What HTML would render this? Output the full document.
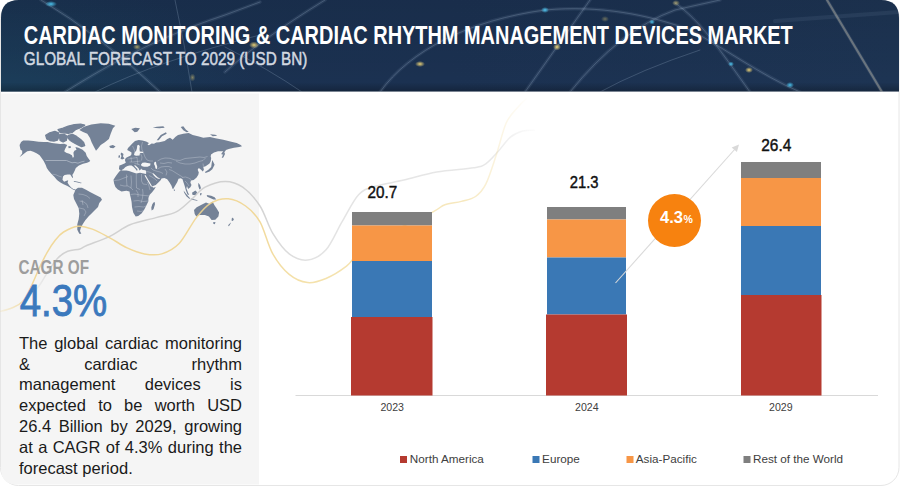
<!DOCTYPE html>
<html><head><meta charset="utf-8">
<style>
html,body{margin:0;padding:0;width:900px;height:488px;background:#fff;overflow:hidden;}
body{position:relative;font-family:"Liberation Sans",sans-serif;}
svg{position:absolute;left:0;top:0;}
.land{fill:#748297;}
.bord{fill:none;stroke:#e3e7ee;stroke-opacity:0.6;stroke-width:0.5;stroke-linejoin:round;}
.water{fill:#f5f5f5;}
.body{position:absolute;left:19px;top:332.7px;width:223px;font-size:16.5px;line-height:20.83px;color:#1a1a1a;}
.body div{text-align:justify;text-align-last:justify;white-space:nowrap;}
.body div.last{text-align-last:left;}
</style></head>
<body>
<svg width="900" height="488" viewBox="0 0 900 488">
<defs>
<linearGradient id="hg" x1="0" y1="0" x2="1" y2="0">
<stop offset="0" stop-color="#1a3150"/>
<stop offset="0.5" stop-color="#1b3151"/>
<stop offset="1" stop-color="#1d3453"/>
</linearGradient>
<radialGradient id="hteal" gradientUnits="userSpaceOnUse" cx="0" cy="95" r="260" gradientTransform="translate(0 95) scale(1 0.45) translate(0 -95)">
<stop offset="0" stop-color="#1c4660" stop-opacity="0.6"/>
<stop offset="1" stop-color="#1c4660" stop-opacity="0"/>
</radialGradient>
<linearGradient id="hv" x1="0" y1="0" x2="0" y2="1">
<stop offset="0" stop-color="#000" stop-opacity="0.08"/>
<stop offset="0.9" stop-color="#000" stop-opacity="0"/>
<stop offset="1" stop-color="#000" stop-opacity="0.25"/>
</linearGradient>
<linearGradient id="yg" gradientUnits="userSpaceOnUse" x1="0" y1="0" x2="530" y2="0">
<stop offset="0" stop-color="#f0d590" stop-opacity="0.2"/>
<stop offset="0.06" stop-color="#f0d590" stop-opacity="0.9"/>
<stop offset="0.48" stop-color="#f0d590" stop-opacity="0.9"/>
<stop offset="0.56" stop-color="#f1d994" stop-opacity="0.8"/>
<stop offset="0.88" stop-color="#f1d994" stop-opacity="0.6"/>
<stop offset="1" stop-color="#f3dc9e" stop-opacity="0"/>
</linearGradient>
<linearGradient id="gg" gradientUnits="userSpaceOnUse" x1="30" y1="0" x2="540" y2="0">
<stop offset="0" stop-color="#c8c8c8" stop-opacity="0"/>
<stop offset="0.06" stop-color="#c8c8c8" stop-opacity="0.8"/>
<stop offset="0.45" stop-color="#c8c8c8" stop-opacity="0.8"/>
<stop offset="0.55" stop-color="#d0d0d0" stop-opacity="0.6"/>
<stop offset="0.9" stop-color="#d0d0d0" stop-opacity="0.5"/>
<stop offset="1" stop-color="#d0d0d0" stop-opacity="0"/>
</linearGradient>
<radialGradient id="glowY"><stop offset="0" stop-color="#ffe27a" stop-opacity="0.9"/><stop offset="1" stop-color="#ffe27a" stop-opacity="0"/></radialGradient>
<radialGradient id="glowC"><stop offset="0" stop-color="#4fd2ff" stop-opacity="0.9"/><stop offset="1" stop-color="#4fd2ff" stop-opacity="0"/></radialGradient>
<filter id="soft" x="-5%" y="-5%" width="110%" height="110%"><feGaussianBlur stdDeviation="0.5"/></filter>
<clipPath id="hclip"><path d="M1 91.5 V18 Q1 0 19 0 H881 Q899 0 899 18 V91.5 Z"/></clipPath>
</defs>
<!-- card border -->
<rect x="0.5" y="0.5" width="898.5" height="485" rx="18" fill="#fff" stroke="#e6e6e6" stroke-width="1"/>
<!-- header -->
<path d="M1 91.5 V18 Q1 0 19 0 H881 Q899 0 899 18 V91.5 Z" fill="url(#hg)"/>
<path d="M1 91.5 V18 Q1 0 19 0 H881 Q899 0 899 18 V91.5 Z" fill="url(#hteal)"/>
<path d="M1 91.5 V18 Q1 0 19 0 H881 Q899 0 899 18 V91.5 Z" fill="url(#hv)"/>
<g clip-path="url(#hclip)"><g fill="none" stroke-linecap="round" filter="url(#soft)">
<g stroke="#a9bfd8" stroke-opacity="0.10" stroke-width="3.5">
<path d="M41 0 Q100 35 160 92"/>
<path d="M65 92 C100 70 150 40 225 15 L260 2"/>
<path d="M225 72 Q260 40 325 0"/>
<path d="M380 92 C410 50 470 20 545 10 C600 5 650 15 690 30 C720 45 760 75 800 92"/>
<path d="M675 3 C700 20 720 50 750 92"/>
<path d="M590 0 L525 92"/>
<path d="M570 92 Q620 30 675 10 L720 0"/>
<path d="M827 0 L882 92"/>
</g>
<g stroke="#b8cce2" stroke-opacity="0.22" stroke-width="1">
<path d="M41 0 Q100 35 160 92"/>
<path d="M175 0 Q185 45 192 92"/>
<path d="M65 92 C100 70 150 40 225 15 L260 2"/>
<path d="M95 92 Q160 60 260 35"/>
<path d="M225 72 Q260 40 325 0"/>
<path d="M225 47 Q270 70 302 92"/>
<path d="M380 92 C410 50 470 20 545 10 C600 5 650 15 690 30 C720 45 760 75 800 92"/>
<path d="M675 3 C700 20 720 50 750 92"/>
<path d="M590 0 L525 92"/>
<path d="M570 92 Q620 30 675 10 L720 0"/>
<path d="M600 92 Q640 70 700 50"/>
<path d="M775 21 L899 12" stroke-width="4" stroke-opacity="0.08"/>
<path d="M827 0 L882 92" stroke="#e0d3b8" stroke-opacity="0.35" stroke-width="2.2"/>
</g>
</g></g>
<g clip-path="url(#hclip)">
<ellipse cx="51" cy="4" rx="6" ry="3" fill="url(#glowC)"/>
<ellipse cx="137" cy="47" rx="4" ry="3" fill="url(#glowY)" opacity="0.7"/>
<ellipse cx="192.5" cy="77.5" rx="3" ry="4" fill="url(#glowY)" opacity="0.5"/>
<ellipse cx="254" cy="45" rx="5" ry="3.5" fill="url(#glowY)"/>
<ellipse cx="420" cy="64" rx="5" ry="3" fill="url(#glowY)"/>
<ellipse cx="545" cy="10" rx="4" ry="3" fill="url(#glowC)"/>
<ellipse cx="557" cy="47" rx="4" ry="3.5" fill="url(#glowY)"/>
<ellipse cx="605" cy="19" rx="4" ry="3" fill="url(#glowY)" opacity="0.4"/>
<ellipse cx="652" cy="22" rx="3" ry="2.5" fill="url(#glowC)"/>
<ellipse cx="731" cy="64" rx="3" ry="2.5" fill="url(#glowC)"/>
<ellipse cx="749" cy="70" rx="4" ry="3" fill="url(#glowY)"/>
<ellipse cx="790" cy="85" rx="4" ry="3" fill="url(#glowC)"/>
<ellipse cx="676" cy="3" rx="4" ry="3" fill="url(#glowY)" opacity="0.6"/>
</g>
<!-- left panel -->
<path d="M1 93.5 H259 V484.5 H17 Q1 484.5 1 468.5 Z" fill="#f5f5f5"/>
<!-- map -->
<path class="land" d="M19.6 145.1 L21.1 142 L23.2 140.5 L28.3 140.5 L33.4 141 L38.6 141.7 L43.7 142 L47.8 142 L51.9 143 L56 143.4 L60.1 144.1 L64.2 143.8 L67.2 145.1 L65.2 148.7 L64.2 151.2 L66.2 152.8 L69.3 153.8 L71.9 155.3 L72.9 157.9 L73.9 156.4 L73.4 152.8 L74.4 150.7 L76.5 149.7 L75.4 147.1 L78.5 147.7 L82.6 149.7 L85.7 152.8 L86.7 155.9 L88.8 158.9 L90.3 161 L88.8 162 L87.1 162.8 L83 163.8 L78.9 165.4 L75.8 167.9 L74.8 170.5 L73.3 173.5 L72.3 175.1 L73 177.1 L72.6 178.2 L71.2 176.1 L70.2 174.6 L67.6 174.6 L64.6 175.1 L63 176.6 L62.5 179.7 L64.1 181.7 L66.6 180.7 L68.2 180.2 L67.6 182.8 L69.2 185.3 L71.2 187.4 L73.3 188.9 L75.5 189.6 L74.5 190.2 L72.5 189.3 L70 187.6 L67 185.8 L63.5 184.2 L60 182.3 L57 180 L54.5 177 L51.3 173.8 L48.5 170.5 L46.8 168 L45.7 165.1 L43.7 161 L41.6 157.9 L39.6 155.3 L36.5 153.3 L33.4 151.8 L30.4 150.7 L27.3 151.2 L25.2 152.8 L21.1 155.9 L19.6 156.9 L22.2 153.5 L22.2 150.7 L20.6 149.7 L19.9 147.1Z M68 146.5 L70.5 146 L71 147.8 L68.8 148.3Z M75.3 189.7 L78 187.7 L82 187.7 L86 189.7 L90 192.1 L95.3 194.7 L100.7 197.4 L102 199.7 L99.3 203 L98 207 L94 211 L91.3 213.7 L88.7 216.3 L85.3 220.3 L82.7 224.3 L80.7 228.3 L80 231 L81.3 233.7 L79.3 233.7 L77.3 229.7 L77.3 224.3 L78.7 219 L79.3 213.7 L78.7 208.3 L76.7 204.3 L74 199 L73.3 195 L74.7 191.7Z M79.3 129.9 L84 126.7 L91.3 124.6 L100.7 123.3 L108.7 123.8 L115.3 125.7 L112.9 128.3 L110.7 133.7 L108.9 139 L104.9 142.3 L100.7 145 L98 148.6 L96 150.7 L94 147 L91.6 142.3 L90 137.9 L87.3 133.7 L83.1 132.1Z M109.3 145.9 L112.9 145 L115.6 146.5 L113.3 148.3 L110 147.8Z M127.2 150 L128 148 L129.5 146.6 L132.3 143.4 L135 141.1 L138.7 140.1 L142.4 140.6 L146.1 141.5 L148.9 142.9 L147.5 144.8 L149 145.2 L151.6 143.4 L154 143.7 L156.2 142.5 L159.3 142.3 L164.7 141 L167.3 139 L170 137.7 L172.7 139.7 L175.3 137 L178 135 L183.3 133.7 L188.7 133 L192.7 135 L198 136.3 L203.3 137.7 L210 137 L215.3 138.3 L223.3 139.7 L231.3 141.7 L236.7 143 L240.7 145 L242 146.3 L239.3 147 L234 147.7 L228.7 149 L226 150 L224.5 152 L223.3 153.7 L221.7 158 L223.3 157.4 L225 154 L224 151 L218 151.3 L214 152.5 L211 154.5 L210.7 156.8 L211.2 158 L210.7 161.3 L209.5 163.5 L207.8 164.7 L205.6 166.3 L203.3 166.9 L203.9 169.7 L202.8 171.4 L201.1 169.7 L198.8 168 L197.7 169.7 L198.8 172.5 L198.3 174.8 L196.6 177.6 L193.7 179.9 L190.9 180.4 L190.4 182.7 L191.5 184.9 L190.4 187.2 L188.1 188.9 L187 186.1 L186.4 188.3 L188.1 192.8 L189.2 195.1 L187.5 194.5 L185.9 190.6 L184.7 186.1 L183.6 182.7 L182.5 179.3 L180.8 178.2 L178.5 178.7 L177.3 182 L175.1 185.8 L173.2 189 L172.5 188.8 L171.5 185.8 L169.4 182.2 L167.2 179.3 L164.4 177.9 L161.5 178.4 L160.8 180 L159.4 181.5 L155.8 185.1 L151.8 186.6 L153.5 187.8 L155.8 187 L154.6 189 L152.1 192.3 L149.7 194.8 L148.4 198 L148.4 201.3 L147.2 203.8 L145.6 207 L143.9 210.3 L141.5 213.6 L138.2 216.1 L135.7 216.5 L133.3 212.8 L132 207 L131.6 202.1 L130.8 198 L130 194.8 L129.5 191.4 L126.4 190.8 L121.5 191.4 L117.8 189.6 L115.4 187.1 L114.1 183.4 L113.5 179.8 L115.4 176.7 L117.2 174.2 L118.5 172.4 L120.3 170.5 L121 170.2 L118.9 169.2 L119.4 165.5 L121 165 L124.4 163.6 L125.8 162.7 L124.9 160 L125.8 158.1 L128.1 156.7 L130.4 155.8 L131.4 154.4 L131.5 152.5 L130 151.5Z M153.5 202.5 L154.7 201.9 L155 204.3 L153.5 209.3 L151.6 210.5 L151.3 207.4 L152.3 204.3Z M194 209.9 L196.7 207.3 L202 204.6 L206 202.6 L209.7 204.1 L211.6 202.1 L212.7 201.7 L214.3 205 L216.7 208.6 L219.1 212.6 L218.4 216.6 L215.3 219.7 L211.6 219.9 L208.9 216.6 L204.9 215 L199.6 215 L196.3 216.6 L194.7 213.9Z M213.3 221.9 L215.6 222.3 L214.7 224.3 L213.3 223.8Z M232 217.4 L234 219 L232.9 221 L231.5 220.5Z M231.3 222.3 L229.3 225.7 L228 226.3 L228.7 224.6Z M121.5 152.5 L123.5 154 L123 156.5 L124.5 158.5 L122 159.5 L120.5 158.5 L121.5 156 L120.5 154Z M118.6 155.5 L120 155.2 L120 157.5 L118.4 157.8Z M212.3 160.1 L214.6 164.7 L212.3 169.2 L209.5 171.4 L205.6 173.1 L205 172 L208.4 169.7 L211.2 166.9 L211.8 162.4Z M221.4 153.4 L223.5 151 L224.7 150 L224 153 L222 155Z M198.3 182.7 L200 185 L201 188.3 L199.4 189.5 L198.3 186.1Z M192 192.8 L195.4 190.6 L197.1 192.3 L196 195.1 L192.6 195.1Z M183.6 190.6 L185.9 193.4 L188.7 196.8 L190.4 198.5 L189.2 198.7 L186.4 196.2 L184.2 192.8Z M190.9 198.5 L197.7 200.2 L197.1 200.7 L190.9 199.6Z M206.7 195.1 L211.2 195.7 L214.6 197.3 L216.3 199.6 L213.5 199.6 L210.1 197.9 L207.3 196.8Z M200.3 193 L201.8 193.2 L201 195.5 L200 195Z M156.7 140.3 L160.7 135 L166 132.3 L166.7 133.7 L162 136.3 L158.7 140.3Z M131.3 129 L135.3 127.7 L140 128.3 L137.3 131.7 L134.7 132.3Z M152.7 127.7 L156.7 126.7 L163.3 126.3 L164.7 127.7 L159.3 128.3Z M180.7 127 L183.3 126.3 L186 129.7 L188.7 131.7 L186.7 132.3 L183.3 130.3Z M210 134.3 L215.3 134.7 L217.3 135.7 L212.7 136.3Z M74 181 L78 181.7 L82 183 L80.5 183.3 L76.7 182.3 L73.7 181.7Z M173.7 189.4 L174.8 189.6 L174.9 190.8 L174 191Z"/>
<path class="land" stroke="#748297" stroke-width="1.3" stroke-linejoin="round" d="M45.7 135.4 L49.8 132.8 L54.9 131.3 L58.5 132.8 L59 136.4 L57.5 140 L53.9 141 L49.8 140.5 L46.8 139Z M58 129.7 L63.1 128.2 L68.3 126.1 L74.4 124.6 L80.6 124.1 L84.7 125.1 L80.6 127.7 L75.4 129.7 L72.4 132.3 L68.3 133.3 L64.2 132.8 L60.1 132.3Z M68.3 135.4 L72.4 134.3 L76.5 136.4 L80.6 139.5 L83.6 142.5 L84.7 145.6 L81.6 146.6 L77.5 144.6 L73.4 142.5 L70.3 140.5 L68.3 138.4Z M60.1 134.3 L64.2 134.3 L67.2 136.4 L66.2 140.5 L63.1 142 L60.1 140.5 L59.6 137.4Z"/>
<path class="water" d="M121.3 170.3 L123.5 169 L125.5 167 L127.5 166 L129.5 165.4 L131.5 165.6 L133.3 166.8 L135.3 168.8 L136.8 170.8 L137.5 170.2 L137.3 169 L135.5 167.2 L134 165.5 L135.2 165.3 L137 166.8 L138.7 168.5 L139.5 170.5 L140.5 169.8 L141.2 168.6 L141.8 169.5 L143 170 L145.5 170.3 L146.2 171.5 L146.1 174 L143.7 173.4 L140 172.8 L136.3 173.4 L132.6 172.2 L129 171 L126.4 170.5 L122.5 170.5Z M141 164.5 L142.5 162.8 L145 162.5 L147.5 163 L150.5 163.5 L150.2 165.5 L147.5 166.7 L144 166.8 L141.5 166Z M154.5 162 L156 161.8 L156.3 164 L157.2 166.5 L157 169 L155.5 168.5 L155 166 L154 164Z M137.2 145.5 L138.5 144.8 L139.8 146 L139.5 149 L139.8 151.5 L143.3 151.8 L143.3 153 L140 153 L139.5 155.5 L136 155.8 L134 155 L134.7 152.5 L136.3 150.5 L137 148Z M152.9 172.9 L154.5 174.3 L156.3 176 L157.9 177.6 L159.8 178.2 L159.5 179 L157.5 178.6 L155.5 177.2 L153.8 175.5 L152.6 173.7Z"/>
<path d="M145 175.2 L151.6 186.5" stroke="#f5f5f5" stroke-width="1.1"/>
<path class="bord" d="M52.5 174.2 L56 174.8 L59 176.2 L61.8 177 M78.5 194 L83 194.5 L87 196 L90 198.5 M79.5 201 L84 202 L87 204.5 L88 208 M79 208 L84 209 L86 212 L84 216 M82 200 L83 205 M114.2 180.5 L119 180 L124 178 L128 176.5 M126.5 174.5 L126.5 180 L127 186 M131 175.5 L131.5 182 L131 188 L133 190 M136.3 173.8 L136.3 181 L136.5 188 L140 189.5 M141.5 174 L141.5 181 L143 184 L147 184.5 M130.5 194.5 L135 194 L140 195 L145 195.5 L149 196 M133.5 201 L138 200.5 L143 201.5 L148 201 M134.5 207 L139 206.5 L143.5 207 L146 206 M137 211 L141 211.5 L144 210.5 M120 185 L124 186 L128 186 L131 188 M136 190 L138 193 L138 197 M142.5 189 L143 193 L142.5 198 L141 203 M147.5 182 L149 186 L150 190 M127.5 159 L131 158.5 L134 158 L137 157.5 M129.5 162 L133 162 L137 161.5 L140.5 161 M131 157 L131.5 162 M137 157 L137.5 162 L138 165 M140.5 153.5 L142 157 L141.5 160.5 M143.5 153 L145 157 L147 160 L150 161 L153 161 M134.5 163.5 L137.5 164 L140 165 M132.5 146 L134 149 L135 152 L134.7 154 M142.5 142 L141.5 146 L142 150 L143 151.5 M146.5 171.5 L149 172 L151.5 173 L153 174 M149 175.5 L152 177 L155 179 L157 181 M151 168 L153 170 L156 171 L160 172 L163 173.5 M157.5 161 L161 159 L165 158 L170 158.3 L175 160 L180 160.5 M157.5 169 L161 167 L165 166.5 L169 166.5 L172 168 M160 163 L164 163.5 L168 162.5 L172 163 M165 169 L167 172 L166 175.5 M169 169.5 L172 170.5 L176 173 L180 175.5 L182.5 177 M176 161 L180 163 L185 164 L190 164 L195 163 L199 161.5 L203 160.5 L205.5 158 M180 160.5 L185 158.5 L190 158 L195 157.5 L200 157 L204 157.5 L207.5 156.5 M182 177.5 L185.5 177 L188.5 178 L191 179.5 M185 181 L187 183 L189 186 M203 163.5 L203.5 166.8"/>
<path d="M45.5 160.5 L66.5 160.5 L69 161.6 L72 162.8 L75 162.4 L78 163.2 L81 162 L84.5 161.2" fill="none" stroke="#a9b3c2" stroke-width="0.9"/>

<path d="M36.0 290.0 C36.8 288.8 39.1 285.9 41.0 283.0 C42.9 280.1 44.5 276.9 47.2 272.8 C49.9 268.7 54.0 262.1 57.4 258.5 C60.8 254.9 63.9 252.9 67.7 251.3 C71.5 249.7 76.8 250.0 80.0 249.0 C83.2 248.0 81.7 247.6 86.7 245.5 C91.7 243.4 102.6 239.8 109.8 236.3 C117.0 232.9 122.3 227.9 130.0 224.8 C137.7 221.7 148.3 219.8 156.0 217.6 C163.7 215.4 170.4 214.7 176.2 211.8 C182.0 208.9 185.9 204.3 190.7 200.2 C195.5 196.1 199.3 190.3 205.1 187.2 C210.9 184.1 219.0 181.4 225.3 181.4 C231.6 181.4 236.9 183.1 242.7 187.2 C248.5 191.3 255.0 198.3 260.0 206.0 C265.0 213.7 267.9 225.4 272.8 233.4 C277.7 241.4 283.4 249.5 289.2 253.9 C295.0 258.3 301.5 260.7 307.6 260.0 C313.7 259.3 320.2 256.3 326.0 249.8 C331.8 243.3 336.9 230.3 342.4 221.1 C347.9 211.9 353.3 200.3 358.8 194.5 C364.3 188.7 367.7 188.7 375.2 186.3 C382.7 183.9 393.6 182.5 403.9 180.1 C414.1 177.7 425.1 174.1 436.7 172.0 C448.3 169.9 465.4 169.2 473.6 167.8 C481.8 166.4 481.7 166.5 485.8 163.8 C489.9 161.1 494.0 155.9 498.1 151.5 C502.2 147.1 506.3 140.5 510.4 137.1 C514.5 133.7 518.6 132.2 522.7 131.0 C526.8 129.8 533.0 130.3 535.0 130.2" fill="none" stroke="url(#gg)" stroke-width="1.5"/>
<path d="M0.0 311.5 C2.1 310.9 8.5 309.4 12.3 307.7 C16.1 306.0 19.5 304.9 22.6 301.5 C25.7 298.1 28.1 292.7 30.8 287.2 C33.5 281.7 36.3 274.5 39.0 268.7 C41.7 262.9 44.5 257.1 47.2 252.3 C49.9 247.5 52.7 243.4 55.4 240.0 C58.1 236.6 59.8 234.3 63.6 232.0 C67.4 229.7 73.2 226.7 78.0 226.2 C82.8 225.7 87.1 227.2 92.4 229.1 C97.7 231.0 104.0 234.7 109.8 237.8 C115.6 240.9 121.3 245.2 127.1 247.9 C132.9 250.6 138.6 252.9 144.4 253.9 C150.2 254.9 156.0 255.6 161.8 253.9 C167.6 252.2 173.3 249.7 179.1 243.6 C184.9 237.5 191.1 224.3 196.4 217.6 C201.7 210.8 205.6 206.2 210.9 203.1 C216.2 200.0 222.4 198.3 228.2 198.8 C234.0 199.3 240.3 202.2 245.6 206.0 C250.9 209.8 255.5 213.9 260.0 221.9 C264.5 229.9 267.9 245.2 272.8 253.9 C277.7 262.6 283.4 269.6 289.2 274.4 C295.0 279.2 301.5 281.9 307.6 282.6 C313.7 283.3 319.5 281.2 326.0 278.5 C332.5 275.8 340.8 270.6 346.5 266.2 C352.2 261.8 352.4 257.7 360.0 252.0 C367.6 246.3 379.9 238.7 392.0 232.0 C404.1 225.3 423.8 216.7 432.6 212.1 C441.4 207.5 440.1 206.5 444.9 204.7 C449.7 202.9 456.2 202.8 461.3 201.4 C466.4 200.0 471.5 199.4 475.6 196.5 C479.7 193.6 482.4 191.0 485.8 184.2 C489.2 177.4 492.7 165.8 496.1 155.6 C499.5 145.4 502.6 131.0 506.3 122.8 C510.1 114.6 515.2 110.5 518.6 106.4 C522.0 102.3 525.4 99.6 526.8 98.2" fill="none" stroke="url(#yg)" stroke-width="1.5"/>

<!-- title -->
<text x="23.8" y="43.5" font-family="Liberation Sans" font-weight="bold" font-size="25.3" fill="#fff" textLength="769" lengthAdjust="spacingAndGlyphs">CARDIAC MONITORING &amp; CARDIAC RHYTHM MANAGEMENT DEVICES MARKET</text>
<text x="23.8" y="64.6" font-family="Liberation Sans" font-size="18.6" fill="#d3d9e1" stroke="#d3d9e1" stroke-width="0.5" textLength="283.5" lengthAdjust="spacingAndGlyphs">GLOBAL FORECAST TO 2029 (USD BN)</text>
<!-- CAGR -->
<text x="18.5" y="274" font-family="Liberation Sans" font-weight="bold" font-size="19.8" fill="#9d9d9d" textLength="70.5" lengthAdjust="spacingAndGlyphs">CAGR OF</text>
<text x="19.7" y="316.2" font-family="Liberation Sans" font-size="44" fill="#3b79bd" stroke="#3b79bd" stroke-width="0.9" textLength="87.5" lengthAdjust="spacingAndGlyphs">4.3%</text>
<!-- axis -->
<line x1="295.5" y1="395.5" x2="878" y2="395.5" stroke="#d9d9d9" stroke-width="1"/>
<!-- bars -->
<g>
<rect x="352" y="212" width="80" height="13.5" fill="#7f7f7f"/>
<rect x="352" y="225.5" width="80" height="35.5" fill="#f79646"/>
<rect x="352" y="261" width="80" height="56" fill="#3a78b5"/>
<rect x="351" y="317" width="81.5" height="78.5" fill="#b53a30"/>

<rect x="547" y="207" width="79" height="12.5" fill="#7f7f7f"/>
<rect x="547" y="219.5" width="79" height="38" fill="#f79646"/>
<rect x="547" y="257.5" width="79" height="57" fill="#3a78b5"/>
<rect x="546" y="314.5" width="81" height="81" fill="#b53a30"/>

<rect x="741" y="162" width="80" height="16" fill="#7f7f7f"/>
<rect x="741" y="178" width="80" height="48" fill="#f79646"/>
<rect x="741" y="226" width="80" height="69" fill="#3a78b5"/>
<rect x="741" y="295" width="80.5" height="100.5" fill="#b53a30"/>
</g>
<!-- arrow -->
<line x1="615.5" y1="283" x2="735.5" y2="148.5" stroke="#d9d9d9" stroke-width="1.1"/>
<path d="M739 144.5 L731.7 147.4 L736.9 152 Z" fill="#d9d9d9"/>
<circle cx="674.5" cy="220.5" r="26.5" fill="#f7820f"/>
<text x="660" y="223.3" font-family="Liberation Sans" font-weight="bold" font-size="16" fill="#fff" textLength="23" lengthAdjust="spacingAndGlyphs">4.3</text>
<text x="683.6" y="223.3" font-family="Liberation Sans" font-weight="bold" font-size="10.5" fill="#fff">%</text>
<!-- data labels -->
<g font-family="Liberation Sans" font-size="17" fill="#111" stroke="#111" stroke-width="0.45">
<text x="367.5" y="197.5" textLength="29.7" lengthAdjust="spacingAndGlyphs">20.7</text>
<text x="569.8" y="187.5" textLength="28.7" lengthAdjust="spacingAndGlyphs">21.3</text>
<text x="761.3" y="150.7" textLength="30" lengthAdjust="spacingAndGlyphs">26.4</text>
</g>
<g font-family="Liberation Sans" font-size="10.6" fill="#404040">
<text x="380.4" y="411.4">2023</text>
<text x="575" y="411.4">2024</text>
<text x="769" y="411.4">2029</text>
</g>
<!-- legend -->
<g font-family="Liberation Sans" font-size="11.7" fill="#404040">
<rect x="400" y="456" width="7" height="7" fill="#b53a30"/><text x="409.8" y="463.2">North America</text>
<rect x="532.5" y="456" width="7" height="7" fill="#3a78b5"/><text x="542.1" y="463.2">Europe</text>
<rect x="626.5" y="456" width="7" height="7" fill="#f79646"/><text x="635.8" y="463.2">Asia-Pacific</text>
<rect x="743.5" y="456" width="7" height="7" fill="#7f7f7f"/><text x="753" y="463.2">Rest of the World</text>
</g>
</svg>
<div class="body">
<div>The global cardiac monitoring</div>
<div>&amp; cardiac rhythm</div>
<div>management devices is</div>
<div>expected to be worth USD</div>
<div>26.4 Billion by 2029, growing</div>
<div>at a CAGR of 4.3% during the</div>
<div class="last">forecast period.</div>
</div>
</body></html>
